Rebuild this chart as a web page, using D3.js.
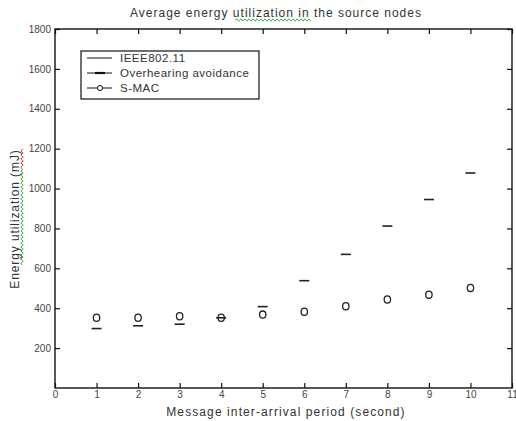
<!DOCTYPE html>
<html>
<head>
<script src="https://d3js.org/d3.v7.min.js"></script>
<style>
  body { margin: 0; background: #fff; }
  svg { font-family: "Liberation Sans", Arial, sans-serif; }
</style>
</head>
<body>
<script>
// values
var periods = [1, 2, 3, 4, 5, 6, 7, 8, 9, 10];
var overhearing = [298, 312, 320, 352, 408, 538, 670, 812, 945, 1078];
var smac = [352, 352, 360, 352, 368, 382, 410, 444, 468, 502];
var xTicks = [0, 1, 2, 3, 4, 5, 6, 7, 8, 9, 10, 11];
var yTicks = [200, 400, 600, 800, 1000, 1200, 1400, 1600, 1800];
var legendNames = ["IEEE802.11", "Overhearing avoidance", "S-MAC"];

var width = 516, height = 421;
// plot box (window.top is reserved, so other names)
var boxL = 55, boxR = 512, boxT = 29, boxB = 388;

var svg = d3.select("body").append("svg")
  .attr("width", width).attr("height", height);

var x = d3.scaleLinear().domain([0, 11]).range([boxL, boxR]);
var y = d3.scaleLinear().domain([0, 1800]).range([boxB, boxT]);

// axes box, ticks inside like matlab
var tl = 5;
var g = svg.append("g");
g.append("g").attr("transform", "translate(0," + boxB + ")")
  .call(d3.axisBottom(x).tickValues(xTicks).tickSizeInner(-tl).tickSizeOuter(0).tickPadding(3));
g.append("g").attr("transform", "translate(" + boxL + ",0)")
  .call(d3.axisLeft(y).tickValues(yTicks).tickFormat(d3.format("d")).tickSizeInner(-tl).tickSizeOuter(0).tickPadding(4));
g.append("g").attr("transform", "translate(0," + boxT + ")")
  .call(d3.axisTop(x).tickValues(xTicks).tickSizeInner(-tl).tickSizeOuter(0).tickFormat(""));
g.append("g").attr("transform", "translate(" + boxR + ",0)")
  .call(d3.axisRight(y).tickValues(yTicks).tickSizeInner(-tl).tickSizeOuter(0).tickFormat(""));
g.selectAll(".domain").remove();
g.selectAll(".tick line").attr("stroke", "#111").attr("stroke-width", 1.2);
g.selectAll(".tick text").attr("fill", "#444").style("font-size", "10px");

svg.append("rect")
  .attr("x", boxL).attr("y", boxT)
  .attr("width", boxR - boxL).attr("height", boxB - boxT)
  .attr("fill", "none").attr("stroke", "#111").attr("stroke-width", 1.4);

// overhearing avoidance : dash markers
svg.append("g").selectAll("line")
  .data(periods)
  .enter().append("line")
  .attr("x1", function(d) { return x(d) - 5; })
  .attr("x2", function(d) { return x(d) + 5; })
  .attr("y1", function(d, i) { return y(overhearing[i]); })
  .attr("y2", function(d, i) { return y(overhearing[i]); })
  .attr("stroke", "#222").attr("stroke-width", 1.6);

// s-mac : circles
svg.append("g").selectAll("ellipse")
  .data(periods)
  .enter().append("ellipse")
  .attr("cx", function(d) { return x(d); })
  .attr("cy", function(d, i) { return y(smac[i]); })
  .attr("rx", 3.2).attr("ry", 3.6)
  .attr("fill", "none").attr("stroke", "#222").attr("stroke-width", 1.3);

// legend
var lg = svg.append("g");
lg.append("rect").attr("x", 81).attr("y", 51).attr("width", 178).attr("height", 48)
  .attr("fill", "#fff").attr("stroke", "#111").attr("stroke-width", 1.2);
legendNames.forEach(function(name, i) {
  var ly = 58 + i * 15;
  lg.append("line").attr("x1", 87).attr("x2", 112).attr("y1", ly).attr("y2", ly)
    .attr("stroke", "#111").attr("stroke-width", 1);
  if (i == 1) {
    lg.append("line").attr("x1", 95).attr("x2", 105).attr("y1", ly).attr("y2", ly)
      .attr("stroke", "#111").attr("stroke-width", 2.2);
  }
  if (i == 2) {
    lg.append("circle").attr("cx", 100).attr("cy", ly).attr("r", 2.5)
      .attr("fill", "#fff").attr("stroke", "#111").attr("stroke-width", 1);
  }
  lg.append("text").attr("x", 120).attr("y", ly).attr("dy", "0.35em")
    .attr("fill", "#333").style("font-size", "11.5px").style("letter-spacing", "0.5px").text(name);
});

// titles
svg.append("text").attr("x", 276).attr("y", 17).attr("text-anchor", "middle")
  .attr("fill", "#333").style("font-size", "12px").style("letter-spacing", "1px")
  .text("Average energy utilization in the source nodes");
svg.append("text").attr("x", 286).attr("y", 416).attr("text-anchor", "middle")
  .attr("fill", "#333").style("font-size", "12px").style("letter-spacing", "1.1px")
  .text("Message inter-arrival period (second)");
svg.append("text").attr("transform", "translate(19,219) rotate(-90)")
  .attr("text-anchor", "middle").attr("fill", "#333").style("font-size", "12px").style("letter-spacing", "0.9px")
  .text("Energy utilization (mJ)");

// spell-check squiggles from the screenshot
function squiggle(x0, x1, yy) {
  var p = "M" + x0 + "," + yy;
  for (var k = x0 + 2, up = true; k <= x1; k += 2, up = !up) p += " L" + k + "," + (yy + (up ? -1.2 : 1.2));
  return p;
}
svg.append("path").attr("d", squiggle(235, 311, 20)).attr("fill", "none")
  .attr("stroke", "#3a3").attr("stroke-width", 0.9);
svg.append("path").attr("d", squiggle(0, 96, 0)).attr("fill", "none")
  .attr("transform", "translate(22,265) rotate(-90)")
  .attr("stroke", "#3a3").attr("stroke-width", 0.9);
svg.append("path").attr("d", squiggle(0, 20, 0)).attr("fill", "none")
  .attr("transform", "translate(22,169) rotate(-90)")
  .attr("stroke", "#d33").attr("stroke-width", 0.9);
</script>
</body>
</html>
